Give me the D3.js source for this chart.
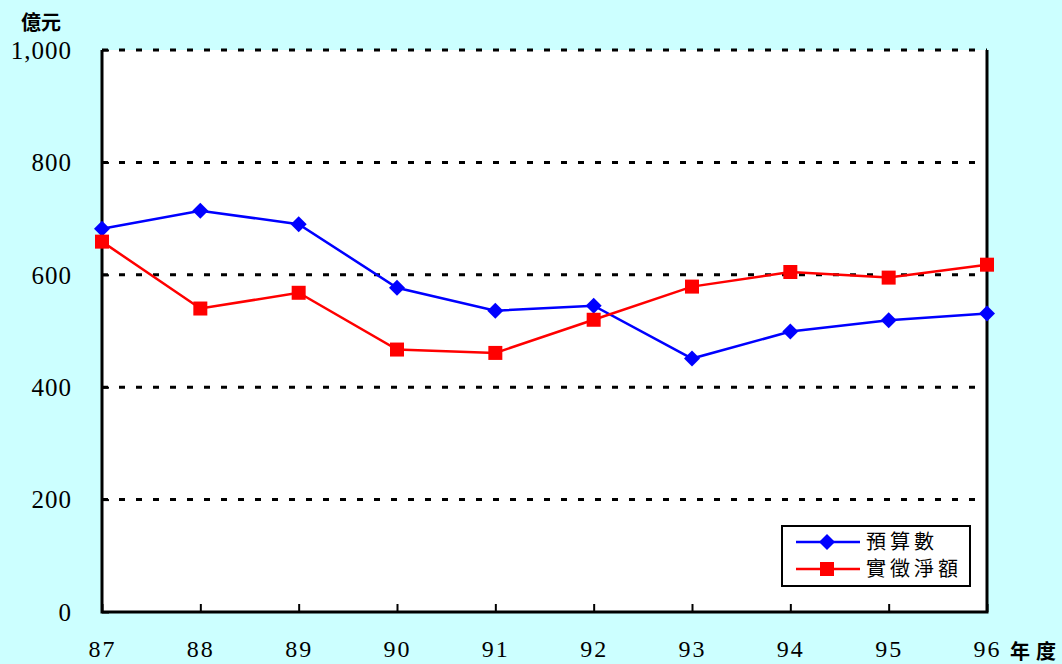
<!DOCTYPE html>
<html>
<head>
<meta charset="utf-8">
<script src="https://cdn.jsdelivr.net/npm/d3@7"></script>
<style>
  body { margin: 0; background: #ccffff; }
  svg { display: block; }
</style>
</head>
<body>
<svg id="chart" width="1062" height="664"></svg>
<script>
// 年度 categories and the two series (億元)
const years = ["87", "88", "89", "90", "91", "92", "93", "94", "95", "96"];
const budget = [682, 714, 690, 577, 536, 545, 451, 499, 519, 531];   // 預算數
const actual = [659, 540, 568, 467, 461, 520, 579, 605, 595, 618];   // 實徵淨額
const yTicks = [0, 200, 400, 600, 800, 1000];

const svg = d3.select("#chart");
const plotL = 102, plotR = 987, plotT = 50, plotB = 612;

const x = d3.scalePoint().domain(years).range([plotL, plotR]).padding(0);
const y = d3.scaleLinear().domain([0, 1000]).range([plotB, plotT]);

svg.append("rect")
    .attr("x", plotL).attr("y", plotT)
    .attr("width", plotR - plotL).attr("height", plotB - plotT)
    .attr("fill", "#fff");

// dashed grid lines
svg.append("g")
    .selectAll("line")
    .data(yTicks.filter(d => d > 0))
    .join("line")
    .attr("x1", plotL).attr("x2", plotR)
    .attr("y1", d => y(d)).attr("y2", d => y(d))
    .attr("stroke", "#000")
    .attr("stroke-width", 3)
    .attr("stroke-dasharray", "6,11");

// frame (left, bottom, right)
svg.append("path")
    .attr("d", `M${plotL},${plotT}V${plotB}H${plotR}V${plotT}`)
    .attr("fill", "none")
    .attr("stroke", "#000")
    .attr("stroke-width", 3);

// y axis labels + inward ticks
const yAxis = svg.append("g")
    .attr("transform", `translate(${plotL},0)`)
    .attr("font-family", "Liberation Serif, serif")
    .call(d3.axisRight(y).tickValues(yTicks).tickSize(7).tickFormat(d3.format(",")));
yAxis.attr("font-family", "Liberation Serif, serif");
yAxis.select(".domain").remove();
yAxis.selectAll("line").attr("stroke-width", 2);
yAxis.selectAll("text")
    .attr("x", -30).attr("text-anchor", "end")
    .attr("font-size", 25).attr("fill", "#000")
    .attr("letter-spacing", 1)
    .attr("dy", "0.33em");

// x axis labels + inward ticks
const xAxis = svg.append("g")
    .attr("transform", `translate(0,${plotB})`)
    .call(d3.axisTop(x).tickSize(8));
xAxis.attr("font-family", "Liberation Serif, serif");
xAxis.select(".domain").remove();
xAxis.selectAll("line").attr("stroke-width", 2);
xAxis.selectAll("text")
    .attr("y", 45).attr("dy", 0)
    .attr("font-size", 24).attr("fill", "#000")
    .attr("letter-spacing", 2);

// unit labels
svg.append("text")
    .attr("x", 41).attr("y", 30)
    .attr("text-anchor", "middle")
    .attr("font-family", "Noto Sans CJK TC, sans-serif")
    .attr("font-weight", "bold")
    .attr("font-size", 20)
    .text("億元");
svg.append("text")
    .attr("x", 1010).attr("y", 659)
    .attr("font-family", "Noto Sans CJK TC, sans-serif")
    .attr("font-weight", "bold")
    .attr("font-size", 20)
    .attr("letter-spacing", 6)
    .text("年度");

const series = [
    {name: "預算數", values: budget, color: "#0000ff", size: 128, rotate: 45},
    {name: "實徵淨額", values: actual, color: "#ff0000", size: 196, rotate: 0}
];

const line = d3.line().x((d, i) => x(years[i])).y(d => y(d));

series.forEach(s => {
    svg.append("path")
        .datum(s.values)
        .attr("d", line)
        .attr("fill", "none")
        .attr("stroke", s.color)
        .attr("stroke-width", 2.5);
    svg.append("g")
        .selectAll("path")
        .data(s.values)
        .join("path")
        .attr("transform", (d, i) => `translate(${x(years[i])},${y(d)}) rotate(${s.rotate})`)
        .attr("d", d3.symbol().type(d3.symbolSquare).size(s.size))
        .attr("fill", s.color);
});

// legend
const lg = svg.append("g").attr("transform", "translate(782,526)");
lg.append("rect")
    .attr("width", 188).attr("height", 60)
    .attr("fill", "#fff").attr("stroke", "#000").attr("stroke-width", 2);
series.forEach((s, i) => {
    const ly = 16 + i * 27;
    lg.append("line")
        .attr("x1", 14).attr("x2", 78).attr("y1", ly).attr("y2", ly)
        .attr("stroke", s.color).attr("stroke-width", 2.5);
    lg.append("path")
        .attr("transform", `translate(45,${ly}) rotate(${s.rotate})`)
        .attr("d", d3.symbol().type(d3.symbolSquare).size(s.size))
        .attr("fill", s.color);
    lg.append("text")
        .attr("x", 84).attr("y", ly + 7)
        .attr("font-family", "Noto Sans CJK TC, sans-serif")
        .attr("font-size", 20)
        .attr("letter-spacing", 4)
        .text(s.name);
});
</script>
</body>
</html>
